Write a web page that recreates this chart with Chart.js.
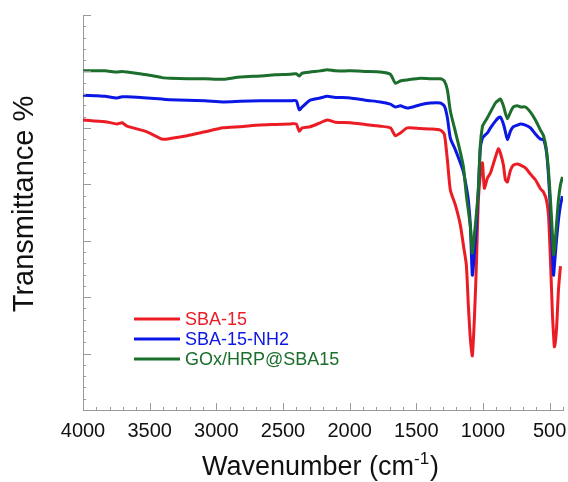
<!DOCTYPE html>
<html>
<head>
<meta charset="utf-8">
<script src="https://cdn.jsdelivr.net/npm/chart.js@4/dist/chart.umd.min.js"></script>
<style>
html,body{margin:0;padding:0;background:#fff;}
#wrap{width:568px;height:482px;}
</style>
</head>
<body>
<div id="wrap"><canvas id="c" width="568" height="482"></canvas></div>
<script>
// ---- data ----
const wavenumbers = [4000,3910,3835,3745,3707,3670,3520,3407,3347,3219,
  3084,2949,2821,2671,2558,2446,2401,2378,2356,2296,
  2221,2168,2108,1995,1883,1770,1695,1657,1620,1567,
  1470,1395,1320,1290,1267,1245,1207,1170,1147,1125,
  1110,1094,1080,1065,1050,1035,1020,1004,990,967,
  944,907,884,869,847,832,817,794,772,742,
  719,682,644,607,569,546,524,509,494,479,
  471,464,449,434,419,404];

const sba15 = [51.4,51.2,51.1,50.7,50.9,50.3,49.3,48.0,48.1,48.6,
  49.3,50.0,50.2,50.5,50.6,50.7,50.7,49.4,50.0,50.2,
  50.9,51.4,51.0,50.9,50.6,50.3,50.0,48.6,49.1,50.0,
  49.9,49.8,49.6,48.9,44.3,39.0,36.3,32.8,29.2,25.7,
  18.6,12.4,9.6,16.0,25.3,37.2,41.6,43.8,39.3,41.1,
  42.0,44.8,46.3,45.5,43.4,40.8,40.4,42.5,43.4,43.6,
  43.4,42.9,41.8,40.8,39.2,38.6,37.2,34.6,26.6,16.8,
  13.3,11.2,14.2,21.3,25.5,null];

const sba15NH2 = [55.8,55.7,55.6,55.3,55.5,55.5,55.3,55.1,55.0,54.9,
  54.8,54.6,54.7,54.8,54.8,54.8,54.8,53.2,53.7,54.9,
  55.3,55.6,55.4,55.3,54.9,54.6,54.2,53.7,53.9,53.5,
  54.1,54.4,54.4,53.9,51.8,48.2,46.1,43.8,42.2,39.5,
  37.2,32.4,23.9,27.5,32.8,39.0,46.4,48.2,48.6,49.1,
  50.0,51.2,51.8,51.9,50.7,49.3,47.9,49.4,50.2,50.5,
  50.7,50.5,50.0,48.9,48.0,47.9,45.7,41.6,35.4,27.5,
  23.9,25.7,30.1,33.7,36.3,37.9];

const goxHrp = [60.1,60.1,60.1,59.9,60.0,59.9,59.4,58.9,58.8,58.7,
  58.7,58.6,59.0,59.2,59.4,59.5,59.6,59.2,59.7,59.9,
  60.1,60.3,60.1,60.1,60.0,59.9,59.5,57.9,58.3,58.5,
  58.8,58.7,58.7,58.3,56.7,53.0,49.3,45.7,43.1,38.1,
  35.4,32.3,27.8,31.0,34.6,39.0,47.0,50.3,50.9,51.8,
  52.8,54.4,54.9,55.1,53.9,52.6,51.6,52.8,53.7,53.9,
  53.7,53.7,52.8,51.4,49.6,48.6,46.1,42.5,37.2,31.0,
  27.5,28.4,32.8,37.2,39.9,41.3];

const seriesNames = ['SBA-15', 'SBA-15-NH2', 'GOx/HRP@SBA15'];
const seriesColors = ['#ec1c24', '#0b17e4', '#1b6e2b'];
const xTickLabels = [4000,3500,3000,2500,2000,1500,1000,500];
const xTitle = 'Wavenumber (cm';
const xTitleSup = '-1';
const xTitleEnd = ')';
const yTitle = 'Transmittance %';

const FONT = '"Liberation Sans", Arial, Helvetica, sans-serif';

function toPoints(ys){ return wavenumbers.map((x,i)=>({x:x, y:ys[i]})); }

const seriesValues = [sba15, sba15NH2, goxHrp];

const datasets = seriesValues.map((vals,i)=>({
  label: seriesNames[i],
  data: toPoints(vals),
  borderColor: seriesColors[i],
  backgroundColor: seriesColors[i],
  borderWidth: 3,
  pointRadius: 0,
  tension: 0.2,
  spanGaps: false,
  fill: false,
  order: 3 - i
}));

const AXIS_COLOR = '#9a9a9a';

const decorPlugin = {
  id: 'decor',
  afterDatasetsDraw(chart){
    const ctx = chart.ctx;
    const xs = chart.scales.x, ys = chart.scales.y;
    const area = chart.chartArea;
    ctx.save();
    // inward tick marks
    ctx.strokeStyle = AXIS_COLOR;
    ctx.lineWidth = 1;
    ctx.beginPath();
    for (let v = 400; v <= 4000; v += 100){
      const px = Math.round(xs.getPixelForValue(v)) + 0.5;
      const len = (v % 500 === 0) ? 7 : 3;
      ctx.moveTo(px, area.bottom);
      ctx.lineTo(px, area.bottom - len);
    }
    for (let v = 0; v <= 70; v += 2){
      const py = Math.round(ys.getPixelForValue(v)) + 0.5;
      const len = (v % 10 === 0) ? 8 : 3;
      ctx.moveTo(area.left, py);
      ctx.lineTo(area.left + len, py);
    }
    ctx.stroke();

    // legend
    const lx0 = 134, lx1 = 180, ly0 = 320, dy = 20;
    ctx.font = '18px ' + FONT;
    ctx.textBaseline = 'middle';
    ctx.textAlign = 'left';
    seriesNames.forEach((name,i)=>{
      const y = ly0 + i*dy;
      ctx.strokeStyle = seriesColors[i];
      ctx.lineWidth = 3;
      ctx.beginPath();
      ctx.moveTo(lx0, y - 1);
      ctx.lineTo(lx1, y - 1);
      ctx.stroke();
      ctx.fillStyle = seriesColors[i];
      ctx.fillText(name, lx1 + 5, y);
    });

    // x axis title with superscript
    ctx.fillStyle = '#111';
    ctx.textBaseline = 'alphabetic';
    const mainFont = '27px ' + FONT, supFont = '17px ' + FONT;
    ctx.font = mainFont; const w1 = ctx.measureText(xTitle).width;
    const w3 = ctx.measureText(xTitleEnd).width;
    ctx.font = supFont; const w2 = ctx.measureText(xTitleSup).width;
    const total = w1 + w2 + w3 + 1;
    let tx = 320.5 - total/2;
    const ty = 475;
    ctx.font = mainFont; ctx.fillText(xTitle, tx, ty); tx += w1;
    ctx.font = supFont; ctx.fillText(xTitleSup, tx, ty - 11); tx += w2 + 1;
    ctx.font = mainFont; ctx.fillText(xTitleEnd, tx, ty);

    // y axis title
    ctx.save();
    ctx.translate(33, 204);
    ctx.rotate(-Math.PI/2);
    ctx.textAlign = 'center';
    ctx.font = '29px ' + FONT;
    ctx.fillText(yTitle, 0, 0);
    ctx.restore();

    ctx.restore();
  }
};

new Chart(document.getElementById('c'), {
  type: 'line',
  data: { datasets },
  options: {
    responsive: false,
    animation: false,
    layout: { padding: { left: 0, right: 5, top: 15, bottom: 0 } },
    plugins: { legend: { display: false }, tooltip: { enabled: false } },
    scales: {
      x: {
        type: 'linear',
        reverse: true,
        min: 400,
        max: 4000,
        afterBuildTicks(scale){ scale.ticks = xTickLabels.map(v=>({value:v})); },
        afterFit(scale){ scale.height = 72; scale.paddingLeft = 0; scale.paddingRight = 0; },
        grid: { display: false, drawTicks: false },
        border: { display: true, color: AXIS_COLOR, width: 1 },
        ticks: {
          color: '#111',
          padding: 9,
          maxRotation: 0,
          autoSkip: false,
          font: { family: FONT, size: 20 },
          callback: (v)=> String(v)
        }
      },
      y: {
        type: 'linear',
        min: 0,
        max: 70,
        afterFit(scale){ scale.width = 83; scale.paddingTop = 0; scale.paddingBottom = 0; },
        grid: { display: false, drawTicks: false },
        border: { display: true, color: AXIS_COLOR, width: 1 },
        ticks: { display: false, stepSize: 10 }
      }
    }
  },
  plugins: [decorPlugin]
});
</script>
</body>
</html>
